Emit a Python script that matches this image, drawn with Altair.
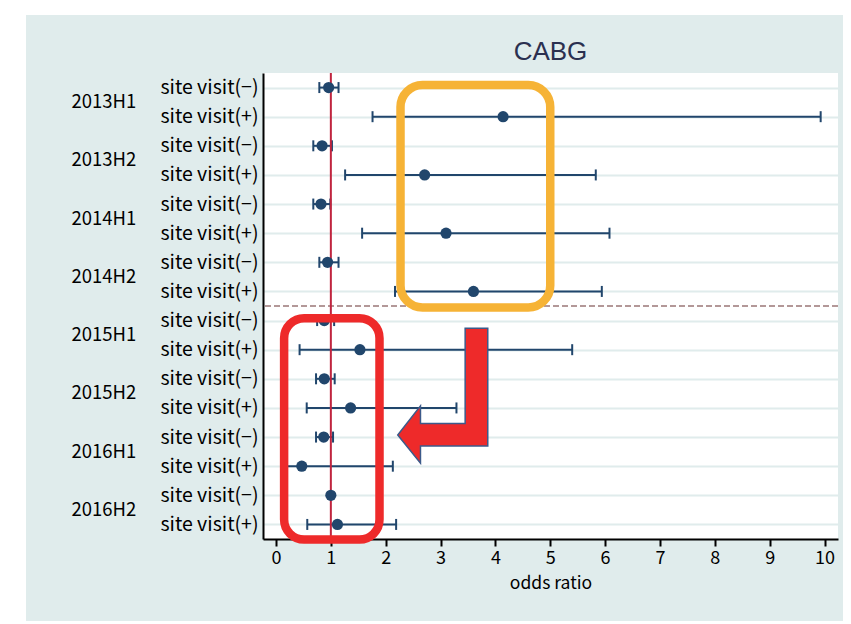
import json
import altair as alt
import pandas as pd

# ---------------- data ----------------
periods = ["2013H1", "2013H2", "2014H1", "2014H2", "2015H1", "2015H2", "2016H1", "2016H2"]
visit_labels = ["site visit(−)", "site visit(+)"]

or_minus = [0.96, 0.84, 0.82, 0.94, 0.88, 0.88, 0.87, 1.00]
lo_minus = [0.79, 0.68, 0.68, 0.79, 0.75, 0.73, 0.73, None]
hi_minus = [1.14, 1.02, 0.99, 1.14, 1.06, 1.07, 1.04, None]

or_plus = [4.14, 2.71, 3.10, 3.60, 1.53, 1.36, 0.47, 1.12]
lo_plus = [1.76, 1.26, 1.57, 2.17, 0.43, 0.56, 0.15, 0.57]
hi_plus = [9.93, 5.83, 6.08, 5.94, 5.40, 3.29, 2.13, 2.19]

title_text = ["CABG"]
x_title = "odds ratio"
x_ticks = list(range(0, 11))
ref_value = [1]
split_after = "2014H2"

# annotation shapes, in data units (x = odds ratio, y = row index)
orange_box = {"x0": [2.27], "x1": [5.0], "y0": [-0.09], "y1": [7.55]}
red_box = {"x0": [0.148], "x1": [1.887], "y0": [7.92], "y1": [15.52]}
arrow_pos = {"x": [3.04], "y": [10.58]}

# ---------------- tables ----------------
rows = []
for i, p in enumerate(periods):
    rows.append({"row": 2 * i, "period": p, "label": visit_labels[0],
                 "or": or_minus[i], "lo": lo_minus[i], "hi": hi_minus[i]})
    rows.append({"row": 2 * i + 1, "period": p, "label": visit_labels[1],
                 "or": or_plus[i], "lo": lo_plus[i], "hi": hi_plus[i]})
df = pd.DataFrame(rows)
df_ci = df.dropna(subset=["lo", "hi"])
df_period = pd.DataFrame({"period": periods, "row": [2 * i + 0.5 for i in range(len(periods))]})
df_ref = pd.DataFrame({"or": ref_value})
df_split = pd.DataFrame({"row": [periods.index(split_after) * 2 + 1.5]})
df_title = pd.DataFrame({"t": title_text})

# ---------------- style ----------------
PANEL = "#e0ecec"
NAVY = "#21466c"
FONT = "Noto Sans CJK JP"
W, H = 575, 466
PAD_L, PAD_T = 255, 65
CANVAS_W, CANVAS_H = 835, 613

xscale = alt.Scale(domain=[-0.237, 10.246], nice=False, zero=False)
yscale = alt.Scale(domain=[-0.5, 15.5], reverse=True, nice=False, zero=False)

x_axis = alt.Axis(values=x_ticks, grid=False, title=x_title, titleFontSize=17.5,
                  titleFontWeight="normal", titleColor="black", titleFont=FONT,
                  titlePadding=7, labelFontSize=18, labelFont=FONT, labelColor="black",
                  labelPadding=3, tickSize=7, tickWidth=2, tickColor="black",
                  domainColor="black", domainWidth=2, labelFlush=False)
label_expr = json.dumps(visit_labels) + "[datum.value % 2]"
y_axis = alt.Axis(values=list(range(len(df))), labelExpr=label_expr, grid=True,
                  gridColor=PANEL, gridWidth=2, ticks=False, tickSize=0,
                  domainColor="black", domainWidth=2, labelFontSize=19.5, labelFont=FONT,
                  labelColor="black", labelPadding=5, title=None)


def X(field):
    return alt.X(field, type="quantitative", scale=xscale, axis=x_axis)


def Y(field):
    return alt.Y(field, type="quantitative", scale=yscale, axis=y_axis)


one = pd.DataFrame({"k": [0]})

# white page strips outside the grey panel (left and top)
strip_left = alt.Chart(one).mark_rect(color="white").encode(
    x=alt.value(-PAD_L), x2=alt.value(-PAD_L + 18), y=alt.value(-PAD_T), y2=alt.value(CANVAS_H - PAD_T))
strip_top = alt.Chart(one).mark_rect(color="white").encode(
    x=alt.value(-PAD_L), x2=alt.value(CANVAS_W - PAD_L), y=alt.value(-PAD_T), y2=alt.value(-PAD_T + 7))

title = alt.Chart(df_title).mark_text(
    fontSize=26, font="Liberation Sans", color="#2b3050", align="center", baseline="middle").encode(
    x=alt.value(W / 2), y=alt.value(-21.5), text="t:N")

bars = alt.Chart(df_ci).mark_rule(color=NAVY, strokeWidth=2).encode(
    x=X("lo"), x2="hi", y=Y("row"))
cap_lo = alt.Chart(df_ci).mark_tick(color=NAVY, orient="vertical", size=11, thickness=2, opacity=1).encode(
    x=X("lo"), y=Y("row"))
cap_hi = alt.Chart(df_ci).mark_tick(color=NAVY, orient="vertical", size=11, thickness=2, opacity=1).encode(
    x=X("hi"), y=Y("row"))
split = alt.Chart(df_split).mark_rule(color="#b39898", strokeWidth=2, strokeDash=[6, 3]).encode(
    y=Y("row"))
refline = alt.Chart(df_ref).mark_rule(color="#c0243e", strokeWidth=2).encode(x=X("or"))
points = alt.Chart(df).mark_circle(color=NAVY, size=125, opacity=1).encode(
    x=X("or"), y=Y("row"))

period_text = alt.Chart(df_period).mark_text(
    align="left", baseline="middle", fontSize=18.5, font=FONT, color="black").encode(
    x=alt.value(-191.5), y=Y("row"), text="period:N")

obox = alt.Chart(pd.DataFrame(orange_box)).mark_rect(
    fillOpacity=0, stroke="#f6b336", strokeWidth=8.5, cornerRadius=22).encode(
    x=X("x0"), x2="x1", y=Y("y0"), y2="y1")
rbox = alt.Chart(pd.DataFrame(red_box)).mark_rect(
    fillOpacity=0, stroke="#ee2a2a", strokeWidth=8.5, cornerRadius=20).encode(
    x=X("x0"), x2="x1", y=Y("y0"), y2="y1")

arrow_shape = ("M0.667,-1 L0.667,0.744 L-0.33,0.744 L-0.33,1 L-0.667,0.581 "
               "L-0.33,0.151 L-0.33,0.413 L0.332,0.413 L0.332,-1 Z")
arrow = alt.Chart(pd.DataFrame(arrow_pos)).mark_point(
    shape=arrow_shape, size=135 * 135, filled=True, fill="#ee2a2a", stroke="#3c5a8a",
    strokeWidth=1.5, opacity=1, fillOpacity=1).encode(x=X("x"), y=Y("y"))

chart = alt.layer(
    strip_left, strip_top, title, bars, cap_lo, cap_hi, split, refline, points,
    period_text, obox, rbox, arrow
).properties(
    width=W, height=H,
    background=PANEL,
    padding={"left": PAD_L, "top": PAD_T, "right": CANVAS_W - PAD_L - W, "bottom": CANVAS_H - PAD_T - H},
    autosize=alt.AutoSizeParams(type="none"),
).configure_view(fill="white", stroke=None)

chart.save("out.html", embed_options={"renderer": "svg", "actions": False})
